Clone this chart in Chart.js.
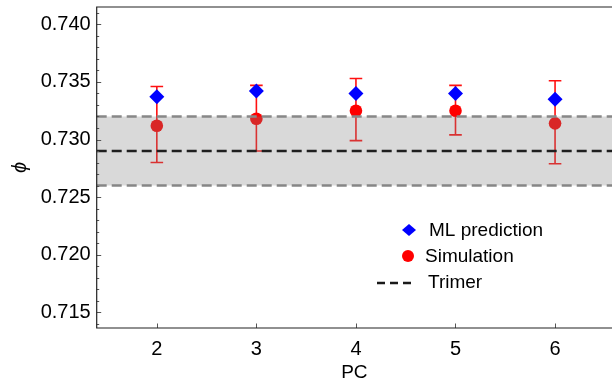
<!DOCTYPE html>
<html>
<head>
<meta charset="utf-8">
<script src="https://cdn.jsdelivr.net/npm/chart.js@4/dist/chart.umd.min.js"></script>
<style>
  html, body { margin: 0; padding: 0; background: #fff; }
  #wrap { width: 612px; height: 385px; }
</style>
</head>
<body>
<div id="wrap"><canvas id="chart" width="612" height="385"></canvas></div>
<script>
// data
const pcValues = [2, 3, 4, 5, 6];
const mlPrediction = [0.7337, 0.7342, 0.7340, 0.7340, 0.7335];
const simulation = [0.7312, 0.7318, 0.7325, 0.7325, 0.7314];
const simErrLow = [0.7280, 0.7290, 0.7299, 0.7304, 0.7279];
const simErrHigh = [0.7346, 0.7347, 0.7353, 0.7347, 0.7351];
const trimer = 0.7290;
const trimerBand = [0.7260, 0.7320];
const yTicks = [0.715, 0.720, 0.725, 0.730, 0.735, 0.740];
const xRange = [1.396, 6.572];
const yRange = [0.71364, 0.7415];

const FONT = "'Liberation Sans', Arial, sans-serif";

function pts(ys) {
  return pcValues.map(function (x, i) { return { x: x, y: ys[i] }; });
}
function flat(v) {
  return xRange.map(function (x) { return { x: x, y: v }; });
}

// red error bars, drawn under the grey band
const errorBars = {
  id: 'errorBars',
  beforeDatasetsDraw(chart) {
    const ctx = chart.ctx;
    const xs = chart.scales.x, ys = chart.scales.y;
    ctx.save();
    ctx.strokeStyle = '#ff1010';
    ctx.lineWidth = 1.6;
    pcValues.forEach(function (pc, i) {
      const px = xs.getPixelForValue(pc);
      const top = ys.getPixelForValue(simErrHigh[i]);
      const bot = ys.getPixelForValue(simErrLow[i]);
      ctx.beginPath();
      ctx.moveTo(px, top); ctx.lineTo(px, bot);
      ctx.moveTo(px - 6.3, top); ctx.lineTo(px + 6.3, top);
      ctx.moveTo(px - 6.3, bot); ctx.lineTo(px + 6.3, bot);
      ctx.stroke();
    });
    ctx.restore();
  }
};

// frame with inward ticks, like the original
const frame = {
  id: 'frame',
  afterDraw(chart) {
    const ctx = chart.ctx;
    const a = chart.chartArea;
    const xs = chart.scales.x, ys = chart.scales.y;
    ctx.save();
    ctx.strokeStyle = '#555';
    ctx.lineWidth = 1;
    ctx.beginPath();
    pcValues.forEach(function (pc) {
      const px = Math.round(xs.getPixelForValue(pc)) + 0.5;
      ctx.moveTo(px, a.bottom); ctx.lineTo(px, a.bottom - 4.5);
    });
    for (let k = 0; k * 0.001 + 0.713 <= yRange[1]; k++) {
      const v = 0.713 + k * 0.001;
      if (v < yRange[0]) continue;
      const py = Math.round(ys.getPixelForValue(v)) + 0.5;
      const len = (k % 5 === 2) ? 4.5 : 2.5;
      ctx.moveTo(a.left, py); ctx.lineTo(a.left + len, py);
    }
    ctx.stroke();
    ctx.strokeStyle = '#222';
    ctx.lineWidth = 1.2;
    ctx.beginPath();
    ctx.moveTo(a.right + 2, a.top);
    ctx.lineTo(a.left, a.top);
    ctx.lineTo(a.left, a.bottom);
    ctx.lineTo(a.right + 2, a.bottom);
    ctx.stroke();
    ctx.restore();
  }
};

// legend inside the plot
const innerLegend = {
  id: 'innerLegend',
  afterDraw(chart) {
    const ctx = chart.ctx;
    ctx.save();
    ctx.font = '19px ' + FONT;
    ctx.fillStyle = '#000';
    ctx.textBaseline = 'middle';
    ctx.textAlign = 'left';

    ctx.fillStyle = '#0000ff';
    ctx.beginPath();
    ctx.moveTo(409 - 7, 230); ctx.lineTo(409, 224); ctx.lineTo(409 + 7, 230); ctx.lineTo(409, 236);
    ctx.closePath(); ctx.fill();
    ctx.fillStyle = '#000';
    ctx.fillText('ML prediction', 429, 231);

    ctx.fillStyle = '#ff0000';
    ctx.beginPath(); ctx.arc(408, 256, 6, 0, Math.PI * 2); ctx.fill();
    ctx.fillStyle = '#000';
    ctx.fillText('Simulation', 425, 257);

    ctx.strokeStyle = '#1a1a1a';
    ctx.lineWidth = 2.5;
    ctx.setLineDash([8, 5]);
    ctx.beginPath(); ctx.moveTo(377, 283); ctx.lineTo(414, 283); ctx.stroke();
    ctx.setLineDash([]);
    ctx.fillText('Trimer', 428, 283);
    ctx.restore();
  }
};

new Chart(document.getElementById('chart'), {
  type: 'scatter',
  data: {
    datasets: [
      {
        label: 'Trimer',
        data: flat(trimer),
        showLine: true,
        borderColor: '#1f1f1f',
        borderWidth: 2.5,
        borderDash: [10, 5],
        pointRadius: 0,
        order: 0
      },
      {
        label: 'band high',
        data: flat(trimerBand[1]),
        showLine: true,
        borderColor: '#888',
        borderWidth: 2.5,
        borderDash: [10, 5],
        backgroundColor: 'rgba(128,128,128,0.3)',
        fill: '+1',
        pointRadius: 0,
        order: 1
      },
      {
        label: 'band low',
        data: flat(trimerBand[0]),
        showLine: true,
        borderColor: '#888',
        borderWidth: 2.5,
        borderDash: [10, 5],
        pointRadius: 0,
        order: 2
      },
      {
        label: 'ML prediction',
        data: pts(mlPrediction),
        pointStyle: 'rectRot',
        pointRadius: 7.5,
        backgroundColor: '#0000ff',
        borderWidth: 0,
        order: 3
      },
      {
        label: 'Simulation',
        data: pts(simulation),
        pointStyle: 'circle',
        pointRadius: 6.3,
        backgroundColor: '#ff0000',
        borderWidth: 0,
        order: 4
      }
    ]
  },
  options: {
    responsive: false,
    animation: false,
    layout: { autoPadding: false, padding: { top: 7, right: 0, left: 0, bottom: 0 } },
    plugins: {
      legend: { display: false },
      tooltip: { enabled: false }
    },
    scales: {
      x: {
        type: 'linear',
        min: xRange[0],
        max: xRange[1],
        afterBuildTicks: function (s) { s.ticks = pcValues.map(function (v) { return { value: v }; }); },
        afterFit: function (s) { s.height = 57; s.paddingLeft = 0; s.paddingRight = 0; },
        grid: { display: false, drawTicks: false },
        border: { display: false },
        ticks: { color: '#000', padding: 9, font: { family: FONT, size: 20 } },
        title: { display: true, text: 'PC', color: '#000', padding: { top: 0, bottom: 1 }, font: { family: FONT, size: 19 } }
      },
      y: {
        type: 'linear',
        min: yRange[0],
        max: yRange[1],
        afterBuildTicks: function (s) { s.ticks = yTicks.map(function (v) { return { value: v }; }); },
        afterFit: function (s) { s.width = 96.7; s.paddingTop = 0; s.paddingBottom = 0; },
        grid: { display: false, drawTicks: false },
        border: { display: false },
        ticks: {
          color: '#000', padding: 6, font: { family: FONT, size: 20 },
          callback: function (v) { return v.toFixed(3); }
        },
        title: { display: true, text: 'ϕ', color: '#000', padding: { top: 8, bottom: 0 }, font: { family: FONT, size: 20, style: 'italic' } }
      }
    }
  },
  plugins: [errorBars, frame, innerLegend]
});
</script>
</body>
</html>
